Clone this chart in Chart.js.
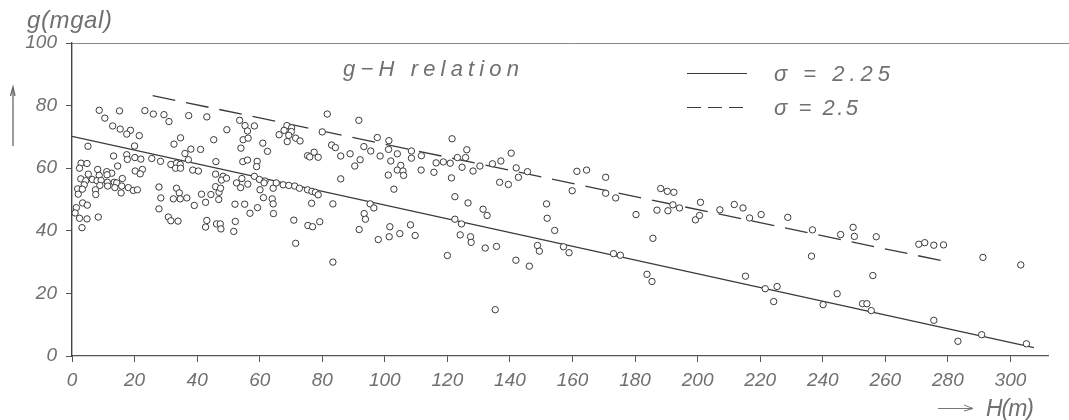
<!DOCTYPE html>
<html><head><meta charset="utf-8">
<script src="https://cdn.jsdelivr.net/npm/chart.js@4"></script>
<style>html,body{margin:0;padding:0;background:#fff}#wrap{width:1069px;height:420px;position:relative}</style>
</head><body><div id="wrap"><canvas id="c" width="1069" height="420"></canvas></div>
<script>
// Elevation H (m) of each observation
const obsH = [
8.7,15.2,23.3,26.0,29.4,37.3,43.1,53.6,10.5,31.0,13.0,15.4,18.7,17.5,21.5,55.3,58.3,56.1,49.5,34.7,
45.3,54.7,56.3,20.0,5.1,32.6,61.0,62.5,54.0,38.0,41.1,36.1,13.3,17.5,17.7,20.1,22.0,25.5,28.3,31.6,
33.4,34.6,37.2,46.0,54.6,56.1,59.2,59.0,2.9,4.8,2.4,14.6,8.2,11.1,12.7,20.2,22.5,21.8,33.1,34.7,
38.6,40.4,45.9,48.3,47.8,49.4,54.3,58.3,59.9,61.7,61.4,2.8,5.2,8.7,11.2,16.1,4.4,6.5,8.0,9.3,
11.3,13.5,14.3,3.9,8.9,11.4,13.7,15.9,18.0,19.6,20.9,15.7,1.8,3.3,2.0,7.5,7.6,27.8,33.4,34.3,
28.4,32.4,34.6,36.7,41.4,44.4,45.9,47.0,47.5,46.9,52.6,53.9,56.2,60.1,61.2,64.3,64.0,64.3,42.7,39.1,
27.8,52.1,55.2,59.3,56.9,64.4,1.4,3.4,4.9,1.0,2.4,4.8,8.4,3.2,30.8,31.6,33.9,43.1,42.7,46.2,
47.4,47.6,52.2,51.7,
81.6,91.7,68.7,70.2,67.8,70.1,66.2,69.3,68.8,71.5,72.9,80.0,83.0,84.2,75.3,76.0,77.4,78.7,85.9,88.9,
93.3,95.5,97.6,101.3,101.2,98.5,101.9,104.0,108.5,108.5,111.7,116.4,118.7,120.9,121.5,123.2,126.2,125.8,124.7,128.2,
92.1,90.4,105.1,104.0,105.8,106.0,101.1,111.6,115.7,121.3,85.9,102.9,65.3,67.5,69.3,71.2,72.7,75.3,76.7,77.8,
78.7,76.6,83.4,95.3,96.5,93.4,93.8,70.9,75.4,76.9,79.2,91.8,101.6,104.8,101.4,97.9,108.2,109.7,122.4,126.6,
122.4,124.5,124.1,127.4,127.6,120.0,71.5,83.4,
130.4,134.4,137.1,140.4,142.0,145.6,142.7,136.7,139.5,161.4,164.5,170.6,159.9,170.6,173.8,188.2,190.3,192.4,192.1,187.0,
190.5,180.3,131.4,132.7,151.7,151.9,154.3,132.1,135.7,148.8,149.4,157.1,158.9,173.1,175.3,141.9,146.2,185.7,183.8,185.4,
135.3,
194.2,200.9,199.3,200.6,207.1,211.7,214.5,216.6,220.3,228.8,236.7,245.7,249.7,250.1,236.4,215.3,221.6,225.4,224.3,244.6,
240.1,252.7,254.1,255.5,256.0,
257.1,270.7,272.6,275.5,278.6,291.2,303.3,275.5,283.2,290.8,305.1
];
// Gravity value g (mgal) of each observation
const obsG = [
78.5,78.3,78.4,77.3,77.1,76.8,76.4,75.3,76.0,74.9,73.5,72.5,72.1,70.9,70.4,73.6,73.5,71.9,72.3,69.7,
69.1,69.1,69.6,67.1,67.0,67.7,68.0,65.4,66.4,66.1,66.0,64.7,63.9,64.3,62.8,63.4,62.9,63.1,62.2,61.2,
61.6,61.2,62.7,62.1,62.1,62.6,62.2,60.5,61.6,61.5,60.0,60.7,59.6,58.9,58.4,59.1,59.6,58.2,60.0,60.0,
59.4,59.1,58.1,57.4,56.2,56.8,56.7,57.4,56.4,55.9,55.3,56.6,58.1,57.7,57.9,56.7,56.0,56.4,56.0,56.1,
55.5,55.5,55.3,54.7,54.5,54.3,53.8,54.3,53.8,52.9,53.1,52.1,53.4,53.3,51.7,53.1,51.6,54.0,53.6,52.1,
50.5,50.2,50.2,50.5,51.7,51.6,54.1,52.3,53.6,50.0,55.3,53.8,54.9,53.1,50.6,53.6,50.2,48.6,49.1,48.1,
47.0,48.5,48.5,47.4,45.6,45.5,47.4,48.9,48.2,45.7,44.0,43.8,44.4,41.0,44.4,43.2,43.1,43.3,41.2,42.2,
42.2,40.6,43.0,39.8,
77.3,75.3,73.6,72.9,72.1,71.7,70.7,70.5,68.5,69.6,68.7,71.6,67.4,66.6,64.0,63.6,65.1,63.5,63.9,64.6,
66.9,65.5,69.8,68.8,66.0,63.9,62.3,64.6,65.5,63.2,64.0,61.7,62.0,61.6,69.4,63.4,65.9,63.4,60.3,59.1,
62.7,60.7,60.9,59.4,59.1,57.7,57.8,59.4,58.7,56.9,56.6,53.3,55.3,54.7,54.5,54.3,53.6,53.1,52.6,52.3,
51.5,48.8,48.6,48.6,47.3,45.5,43.7,43.4,41.7,41.3,42.9,40.4,41.3,39.1,38.1,37.2,41.9,38.5,50.9,48.9,
43.7,42.2,38.7,38.1,36.3,32.1,36.0,30.0,
60.7,61.4,62.3,64.8,60.1,58.9,57.1,55.5,54.8,59.0,59.4,57.1,52.8,52.0,50.5,53.5,52.6,52.3,48.3,46.6,
46.4,45.2,46.9,44.9,48.6,44.0,40.1,34.5,35.0,35.3,33.5,34.9,33.0,32.7,32.2,30.6,28.7,37.6,26.1,23.8,
14.8,
47.3,49.1,43.5,44.9,46.7,48.4,47.3,44.1,45.2,44.3,40.3,38.8,41.1,38.2,31.9,25.5,21.5,22.2,17.4,19.9,
16.4,16.7,16.7,14.5,25.7,
38.1,35.7,36.2,35.4,35.5,31.5,29.1,11.4,4.7,6.8,3.9
];
// Fitted relation lines (end points)
const fitSolidH = [0, 307.5];     // sigma = 2.25
const fitSolidG = [70.2, 2.7];
const fitDashH = [25.8, 280.2];   // sigma = 2.5
const fitDashG = [83.2, 30.0];
const xTickValues = [0,20,40,60,80,100,120,140,160,180,200,220,240,260,280,300];
const yTickValues = [0,20,40,60,80,100];
const legendLabels = ['σ = 2.25', 'σ = 2.5'];
const chartTitle = 'g−H relation';
const yTitle = 'g(mgal)';
const xTitle = 'H(m)';

const INK = '#3a3a3a';
const TXT = '#707070';
const FONT = '"Liberation Sans", "DejaVu Sans", sans-serif';

function spaced(ctx, text, x, y, target) {
  const chars = [...text];
  const ws = chars.map(c => ctx.measureText(c).width);
  const nat = ws.reduce((a, b) => a + b, 0);
  const gap = chars.length > 1 ? (target - nat) / (chars.length - 1) : 0;
  let cx = x;
  chars.forEach((c, i) => { ctx.fillText(c, cx, y); cx += ws[i] + gap; });
}

const decor = {
  id: 'decor',
  afterDraw(chart) {
    const ctx = chart.ctx;
    const a = chart.chartArea;
    ctx.save();
    // top frame line
    ctx.strokeStyle = '#888'; ctx.lineWidth = 1;
    ctx.beginPath(); ctx.moveTo(a.left, a.top + 0.5); ctx.lineTo(1069, a.top + 0.5); ctx.stroke();
    ctx.fillStyle = TXT;
    ctx.textBaseline = 'alphabetic'; ctx.textAlign = 'left';
    // y title
    ctx.font = 'italic 24px ' + FONT;
    spaced(ctx, yTitle, 27, 28, 85);
    // x title
    ctx.font = 'italic 23px ' + FONT;
    spaced(ctx, xTitle, 986, 416, 48);
    // x arrow
    ctx.strokeStyle = '#777'; ctx.lineWidth = 1;
    ctx.beginPath(); ctx.moveTo(938, 408.5); ctx.lineTo(972, 408.5); ctx.stroke();
    ctx.beginPath(); ctx.moveTo(964, 405); ctx.lineTo(973, 408.5); ctx.lineTo(964, 411); ctx.stroke();
    // left vertical arrow
    ctx.strokeStyle = '#666'; ctx.lineWidth = 1.3;
    ctx.beginPath(); ctx.moveTo(13, 146); ctx.lineTo(13, 88); ctx.stroke();
    ctx.beginPath(); ctx.moveTo(10.5, 96); ctx.lineTo(13, 87); ctx.lineTo(15, 96); ctx.stroke();
    // title
    ctx.fillStyle = TXT;
    ctx.font = 'italic 22px ' + FONT;
    spaced(ctx, chartTitle, 343, 76, 176);
    // legend
    ctx.strokeStyle = INK; ctx.lineWidth = 1.2;
    ctx.beginPath(); ctx.moveTo(687, 73.5); ctx.lineTo(747, 73.5); ctx.stroke();
    ctx.setLineDash([14, 7]);
    ctx.beginPath(); ctx.moveTo(687, 107.5); ctx.lineTo(747, 107.5); ctx.stroke();
    ctx.setLineDash([]);
    ctx.font = 'italic 22px ' + FONT;
    spaced(ctx, legendLabels[0], 774, 81, 116);
    spaced(ctx, legendLabels[1], 774, 115, 84);
    ctx.restore();
  }
};

const pts = obsH.map((h, i) => ({ x: h, y: obsG[i] }));
const tickFont = { family: FONT, size: 19, style: 'italic' };

new Chart(document.getElementById('c'), {
  type: 'scatter',
  data: {
    datasets: [
      { data: pts, pointRadius: 3.2, pointBorderWidth: 1, borderColor: INK, backgroundColor: '#fff', pointHoverRadius: 3.2 },
      { data: fitSolidH.map((h, i) => ({ x: h, y: fitSolidG[i] })), showLine: true, pointRadius: 0, borderColor: INK, borderWidth: 1.3 },
      { data: fitDashH.map((h, i) => ({ x: h, y: fitDashG[i] })), showLine: true, pointRadius: 0, borderColor: INK, borderWidth: 1.3, borderDash: [23, 11] }
    ]
  },
  options: {
    responsive: false, animation: false, events: [],
    layout: { padding: { left: 0, top: 43, right: 21, bottom: 0 } },
    plugins: { legend: { display: false }, tooltip: { enabled: false } },
    scales: {
      x: {
        type: 'linear', min: 0, max: 312,
        afterBuildTicks: s => { s.ticks = xTickValues.map(v => ({ value: v })); },
        afterFit: s => { s.height = 64; },
        ticks: { font: tickFont, color: TXT, padding: 7, maxRotation: 0, autoSkip: false },
        grid: { drawOnChartArea: false, drawTicks: true, tickLength: 6, color: '#555', lineWidth: 1 },
        border: { display: true, color: '#555', width: 1.2 }
      },
      y: {
        type: 'linear', min: 0, max: 100,
        afterBuildTicks: s => { s.ticks = yTickValues.map(v => ({ value: v })); },
        afterFit: s => { s.width = 72; },
        ticks: { font: tickFont, color: TXT, padding: 9 },
        grid: { drawOnChartArea: false, drawTicks: true, tickLength: 6, color: '#555', lineWidth: 1 },
        border: { display: true, color: '#444', width: 1.4 }
      }
    }
  },
  plugins: [decor]
});
</script>
</body></html>
